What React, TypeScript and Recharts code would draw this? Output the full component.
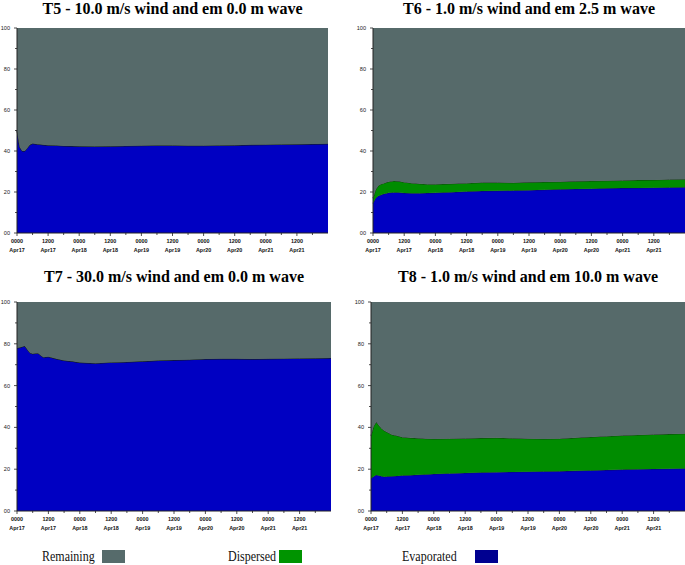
import React from 'react';
import { AreaChart, Area, XAxis, YAxis } from 'recharts';

// sample times in hours from Apr17 0000
const HOURS = [0, 1, 2, 3, 4, 5, 6, 8, 10, 12, 15, 18, 21, 24, 30, 36, 42, 48, 54, 60, 66, 72, 78, 84, 90, 96, 102, 108, 114, 120];

const T5_EVAP = [50, 42, 40, 40, 41.5, 43, 43.6, 43.3, 43, 42.8, 42.7, 42.5, 42.4, 42.3, 42.2, 42.3, 42.5, 42.6, 42.7, 42.7, 42.6, 42.6, 42.7, 42.8, 43, 43.1, 43.2, 43.3, 43.4, 43.5];
const T5_DISP = [0, 0, 0, 0, 0, 0, 0, 0, 0, 0, 0, 0, 0, 0, 0, 0, 0, 0, 0, 0, 0, 0, 0, 0, 0, 0, 0, 0, 0, 0];

const T6_EVAP = [14.5, 17, 18, 18.5, 19, 19.3, 19.6, 19.8, 19.7, 19.5, 19.4, 19.4, 19.5, 19.6, 19.9, 20.2, 20.5, 20.6, 20.7, 20.9, 21.1, 21.3, 21.5, 21.6, 21.8, 21.9, 22, 22.1, 22.2, 22.3];
const T6_DISP = [2.5, 4, 5, 5.3, 5.2, 5.3, 5.4, 5.6, 5.5, 5.3, 4.9, 4.6, 4.3, 4.2, 4.1, 4.1, 4.1, 4, 3.8, 3.8, 3.8, 3.7, 3.7, 3.8, 3.7, 3.7, 3.8, 3.8, 3.9, 3.9];

const T7_EVAP = [78, 78.2, 78.6, 78.9, 77.2, 75.6, 75.2, 75.5, 73.6, 73.8, 72.8, 72, 71.6, 71, 70.7, 71.1, 71.3, 71.6, 72, 72.2, 72.4, 72.7, 72.8, 72.8, 72.7, 72.8, 72.9, 73, 73.1, 73.2];
const T7_DISP = [0, 0, 0, 0, 0, 0, 0, 0, 0, 0, 0, 0, 0, 0, 0, 0, 0, 0, 0, 0, 0, 0, 0, 0, 0, 0, 0, 0, 0, 0];

const T8_EVAP = [15.5, 16.5, 17.2, 17, 16.6, 16.4, 16.5, 16.6, 16.8, 17, 17.1, 17.3, 17.5, 17.7, 18, 18.2, 18.4, 18.6, 18.7, 18.8, 18.9, 19, 19.2, 19.4, 19.6, 19.8, 20, 20.1, 20.2, 20.3];
const T8_DISP = [20.5, 24, 25.4, 24, 22.9, 22.1, 21.3, 19.9, 19.2, 18.3, 17.9, 17.5, 17.1, 16.8, 16.6, 16.5, 16.5, 16.4, 16.1, 15.8, 15.6, 15.6, 15.8, 16, 16.2, 16.3, 16.4, 16.5, 16.6, 16.7];

const X_TICKS = [0, 6, 12, 18, 24, 30, 36, 42, 48, 54, 60, 66, 72, 78, 84, 90, 96, 102, 108, 114];
const Y_TICKS = [0, 10, 20, 30, 40, 50, 60, 70, 80, 90, 100];
const Y_LABELS: Record<number, string> = { 0: '00', 20: '20', 40: '40', 60: '60', 80: '80', 100: '100' };

const GRAY = '#566a6a';
const GREEN = '#008c00';
const BLUE = '#0000c2';

function buildRows(evap: number[], disp: number[]) {
  return HOURS.map((h, i) => ({
    h,
    evaporated: evap[i],
    dispersed: disp[i],
    remaining: 100 - evap[i] - disp[i],
  }));
}

function XTick(props: any) {
  const { x, y, payload } = props;
  const h = payload.value;
  const major = h % 12 === 0;
  const textStyle = { fontSize: 5.4, fontWeight: 'bold' as const, fontFamily: '"Liberation Sans", Arial, sans-serif' };
  return (
    <g>
      <line x1={x} x2={x} y1={y} y2={y + (major ? 3 : 2)} stroke="#222" strokeWidth={0.8} />
      {major && (
        <text x={x} y={y + 10} textAnchor="middle" fill="#111" style={textStyle}>
          {h % 24 === 0 ? '0000' : '1200'}
        </text>
      )}
      {major && (
        <text x={x} y={y + 18.5} textAnchor="middle" fill="#111" style={textStyle}>
          {`Apr${17 + Math.floor(h / 24)}`}
        </text>
      )}
    </g>
  );
}

function YTick(props: any) {
  const { x, y, payload } = props;
  const label = Y_LABELS[payload.value];
  return (
    <g>
      <line x1={x - (label ? 3 : 2)} x2={x} y1={y} y2={y} stroke="#222" strokeWidth={0.8} />
      {label && (
        <text x={x - 7} y={y + 2} textAnchor="end" fill="#222" style={{ fontSize: 5.6, fontFamily: '"Liberation Sans", Arial, sans-serif' }}>
          {label}
        </text>
      )}
    </g>
  );
}

interface PanelProps {
  title: string;
  evap: number[];
  disp: number[];
  left: number;
  top: number;
  width: number;
  height: number;
  marginTop: number;
  marginRight: number;
  yWidth: number;
  titleTop: number;
}

function Panel({ title, evap, disp, left, top, width, height, marginTop, marginRight, yWidth, titleTop }: PanelProps) {
  const data = buildRows(evap, disp);
  const plotLeft = left + yWidth;
  const plotRight = left + width - marginRight;
  const center = (plotLeft + plotRight) / 2;
  return (
    <>
      <div
        style={{
          position: 'absolute',
          left: center - 200,
          top: titleTop,
          width: 400,
          textAlign: 'center',
          fontFamily: '"Liberation Serif", "Times New Roman", serif',
          fontWeight: 'bold',
          fontSize: 16,
          lineHeight: '16px',
          color: '#000',
          whiteSpace: 'nowrap',
        }}
      >
        {title}
      </div>
      <div style={{ position: 'absolute', left, top }}>
        <AreaChart width={width} height={height} data={data} margin={{ top: marginTop, right: marginRight, left: 0, bottom: 0 }}>
          <XAxis
            dataKey="h"
            type="number"
            domain={[0, 120]}
            ticks={X_TICKS}
            interval={0}
            height={27}
            tickSize={0}
            tickMargin={0}
            tickLine={false}
            axisLine={{ stroke: '#222' }}
            tick={<XTick />}
          />
          <YAxis
            type="number"
            domain={[0, 100]}
            ticks={Y_TICKS}
            interval={0}
            width={yWidth}
            tickSize={0}
            tickMargin={0}
            tickLine={false}
            axisLine={{ stroke: '#222' }}
            tick={<YTick />}
          />
          <Area type="linear" dataKey="evaporated" stackId="a" fill={BLUE} fillOpacity={1} stroke="#111133" strokeWidth={0.8} dot={false} activeDot={false} isAnimationActive={false} />
          <Area type="linear" dataKey="dispersed" stackId="a" fill={GREEN} fillOpacity={1} stroke="#112211" strokeWidth={0.8} dot={false} activeDot={false} isAnimationActive={false} />
          <Area type="linear" dataKey="remaining" stackId="a" fill={GRAY} fillOpacity={1} stroke="none" dot={false} activeDot={false} isAnimationActive={false} />
        </AreaChart>
      </div>
    </>
  );
}

function LegendItem({ label, textLeft, swatchLeft, color }: { label: string; textLeft: number; swatchLeft: number; color: string }) {
  return (
    <>
      <span
        style={{
          position: 'absolute',
          left: textLeft,
          top: 549,
          fontFamily: '"Liberation Serif", "Times New Roman", serif',
          fontSize: 15,
          lineHeight: '15px',
          color: '#111',
          transform: 'scaleX(0.8)',
          transformOrigin: 'left top',
          whiteSpace: 'nowrap',
        }}
      >
        {label}
      </span>
      <div style={{ position: 'absolute', left: swatchLeft, top: 550, width: 23, height: 13, background: color }} />
    </>
  );
}

export default function App() {
  return (
    <div style={{ position: 'absolute', left: 0, top: 0, width: 685, height: 565, background: '#fff', overflow: 'hidden' }}>
      <Panel title="T5 - 10.0 m/s wind and em 0.0 m wave" evap={T5_EVAP} disp={T5_DISP} left={0} top={20} width={335} height={240} marginTop={8} marginRight={7} yWidth={17} titleTop={1} />
      <Panel title="T6 - 1.0 m/s wind and em 2.5 m wave" evap={T6_EVAP} disp={T6_DISP} left={340} top={20} width={345} height={240} marginTop={8} marginRight={0} yWidth={33} titleTop={1} />
      <Panel title="T7 - 30.0 m/s wind and em 0.0 m wave" evap={T7_EVAP} disp={T7_DISP} left={0} top={293} width={340} height={245} marginTop={9} marginRight={9} yWidth={17} titleTop={269} />
      <Panel title="T8 - 1.0 m/s wind and em 10.0 m wave" evap={T8_EVAP} disp={T8_DISP} left={340} top={293} width={345} height={245} marginTop={9} marginRight={0} yWidth={31} titleTop={269} />
      <LegendItem label="Remaining" textLeft={42} swatchLeft={102} color="#566b6b" />
      <LegendItem label="Dispersed" textLeft={228} swatchLeft={279} color="#009400" />
      <LegendItem label="Evaporated" textLeft={402} swatchLeft={475} color="#000090" />
    </div>
  );
}
